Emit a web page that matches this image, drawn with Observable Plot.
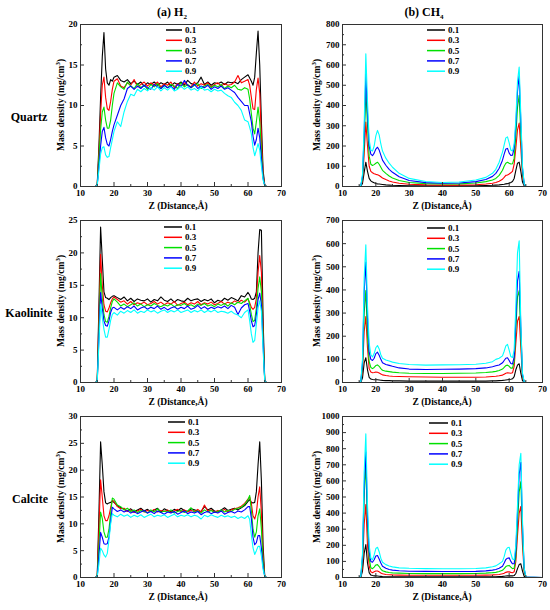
<!DOCTYPE html>
<html><head><meta charset="utf-8">
<script src="https://cdn.jsdelivr.net/npm/d3@7"></script>
<script src="https://cdn.jsdelivr.net/npm/@observablehq/plot@0.6"></script>
<style>
body{margin:0;background:#fff;}
#root{position:relative;width:550px;height:610px;font-family:"Liberation Serif","Times New Roman",serif;font-weight:bold;color:#000;overflow:hidden;}
.abs{position:absolute;white-space:nowrap;line-height:1;}
.title{font-size:12px;transform:translate(-50%,-50%);}
.rowl{font-size:12px;transform:translate(-50%,-50%);}
.xl{font-size:9.5px;transform:translate(-50%,-50%);}
.yl{font-size:9.5px;transform:translate(-50%,-50%) rotate(-90deg);}
.leg{font-size:9px;transform:translateY(-50%);}
sub,sup{font-size:7px;line-height:0;}
</style></head><body><div id="root"></div>
<script>
// ---------- series labels and colours ----------
const seriesLabels = ["0.1", "0.3", "0.5", "0.7", "0.9"];
const seriesColors = ["#000000", "#ff0000", "#00e000", "#0000ff", "#00ffff"];

// ---------- x grids ----------
const xH2 = [10, 14.5, 15, 15.5, 16, 16.5, 17, 17.5, 18, 18.5, 19, 19.5, 20,
  21, 22, 23, 24, 25, 26, 27, 28, 29, 30, 31, 32, 33, 34, 35, 36, 37, 38, 39, 40,
  41, 42, 43, 44, 45, 46, 47, 48, 49, 50, 51, 52, 53, 54, 55, 56, 57, 58, 59,
  60, 60.5, 61, 61.5, 62, 62.5, 63, 63.5, 64, 64.5, 65, 65.5, 70];
const xCH4 = [10, 15,
  15.5, 16, 16.5, 17, 17.5, 18, 18.5, 19, 19.5, 20, 20.5, 21, 21.5, 22,
  23, 24, 25, 27, 30, 35, 40, 45, 50, 53, 55, 56, 57, 58,
  58.5, 59, 59.5, 60, 60.5, 61, 61.5, 62, 62.5, 63, 63.5, 64, 64.5, 65,
  70];

// ---------- tick values ----------
const xMajor = [10, 20, 30, 40, 50, 60, 70];
const xMinor = [15, 25, 35, 45, 55, 65];
const yTicksQuartzH2 = [0, 5, 10, 15, 20];
const yMinorQuartzH2 = [2.5, 7.5, 12.5, 17.5];
const yTicksKaoliniteH2 = [0, 5, 10, 15, 20, 25];
const yMinorKaoliniteH2 = [2.5, 7.5, 12.5, 17.5, 22.5];
const yTicksCalciteH2 = [0, 5, 10, 15, 20, 25, 30];
const yMinorCalciteH2 = [2.5, 7.5, 12.5, 17.5, 22.5, 27.5];
const yTicksQuartzCH4 = [0, 100, 200, 300, 400, 500, 600, 700, 800];
const yMinorQuartzCH4 = [50, 150, 250, 350, 450, 550, 650, 750];
const yTicksKaoliniteCH4 = [0, 100, 200, 300, 400, 500, 600, 700];
const yMinorKaoliniteCH4 = [50, 150, 250, 350, 450, 550, 650];
const yTicksCalciteCH4 = [0, 100, 200, 300, 400, 500, 600, 700, 800, 900, 1000];
const yMinorCalciteCH4 = [50, 150, 250, 350, 450, 550, 650, 750, 850, 950];

// ---------- (a) Quartz H2 ----------
const quartzH2_01 = [0, 0, 0.3, 5, 11, 16, 19.0, 14.5, 12.8, 12.5, 13.2, 13.0, 13.5,
  13.7, 13.1, 12.9, 13.2, 12.7, 13.0, 12.6, 12.9, 12.4, 12.8, 12.6, 12.9, 12.5, 12.8, 12.6, 12.9, 12.4, 12.8, 12.6, 12.9,
  12.5, 13.1, 12.7, 12.6, 12.8, 13.5, 12.6, 12.9, 12.5, 12.8, 12.7, 12.9, 12.6, 12.9, 12.8, 12.9, 12.7, 13.2, 13.5,
  13.8, 13.4, 13.0, 12.5, 13.5, 16.5, 19.2, 15, 8, 2, 0.2, 0, 0];
const quartzH2_03 = [0, 0, 0.3, 4, 9, 12.5, 13.5, 11, 9.6, 9.4, 10.5, 12.0, 13.0,
  13.3, 12.4, 12.2, 12.8, 12.5, 13.2, 12.3, 12.6, 12.9, 12.4, 12.8, 12.5, 12.9, 12.3, 12.7, 12.5, 12.9, 12.2, 12.7, 12.4,
  12.8, 12.5, 12.3, 12.9, 12.4, 12.7, 12.5, 12.8, 12.3, 12.6, 12.8, 12.4, 12.7, 12.5, 12.6, 12.9, 13.7, 12.8, 13.0,
  13.2, 12.5, 11.0, 9.6, 9.5, 12, 13.4, 11.5, 6, 1.5, 0.1, 0, 0];
const quartzH2_05 = [0, 0, 0.2, 3.5, 7, 9.2, 9.8, 8.2, 7.2, 7.2, 8.2, 10.0, 11.5,
  12.8, 12.3, 12.0, 12.9, 12.4, 12.1, 12.7, 12.2, 12.5, 12.0, 12.6, 12.3, 12.7, 12.1, 12.5, 12.2, 12.6, 12.4, 12.1, 12.8,
  12.3, 12.6, 12.2, 12.5, 12.7, 12.1, 12.4, 12.6, 12.2, 12.5, 12.3, 12.6, 12.1, 12.4, 12.2, 12.5, 12.0, 11.9, 12.2,
  12.0, 10.8, 9.0, 7.2, 6.5, 8, 9.8, 8, 4.5, 1.2, 0.1, 0, 0];
const quartzH2_07 = [0, 0, 0.2, 2.5, 5, 6.8, 7.3, 6.0, 5.2, 5.0, 5.8, 6.8, 7.6,
  8.8, 10.0, 10.8, 12.1, 12.4, 12.0, 12.4, 12.1, 12.5, 12.2, 12.0, 12.6, 12.3, 12.1, 12.5, 12.2, 12.4, 12.0, 12.6, 12.3,
  13.1, 12.5, 12.2, 12.6, 12.1, 12.4, 12.2, 12.5, 12.0, 12.3, 12.1, 12.4, 12.0, 12.2, 11.9, 11.6, 11.0, 10.5, 10.0,
  10.0, 9.0, 8.0, 6.2, 5.1, 5.8, 7.2, 6, 3.5, 1, 0.1, 0, 0];
const quartzH2_09 = [0, 0, 0.2, 2, 4, 4.8, 4.9, 3.9, 3.6, 3.7, 4.8, 5.8, 6.8,
  8.0, 7.4, 9.2, 10.5, 11.4, 11.2, 12.0, 11.7, 12.1, 11.8, 12.2, 11.9, 12.3, 11.8, 12.2, 11.9, 12.3, 11.8, 12.0, 12.4,
  12.0, 12.3, 11.9, 12.1, 11.8, 12.3, 11.9, 12.0, 11.7, 12.0, 11.8, 11.9, 11.5, 11.2, 11.0, 10.4, 10.0, 9.4, 8.2,
  8.0, 7.3, 6.5, 4.8, 3.8, 4.5, 5.3, 4.5, 2.5, 0.8, 0.1, 0, 0];

// ---------- (a) Kaolinite H2 ----------
const kaoliniteH2_01 = [0, 0, 0.3, 12, 24.0, 19, 14, 13.1, 13.0, 12.8, 13.1, 13.3, 13.4,
  13.1, 12.8, 13.2, 12.6, 13.0, 12.5, 12.9, 12.7, 12.6, 12.9, 12.4, 12.8, 12.6, 13.2, 12.7, 12.5, 12.9, 12.4, 12.8, 12.6,
  12.5, 13.0, 12.6, 12.8, 12.9, 12.5, 12.8, 12.6, 12.9, 12.3, 12.7, 12.5, 13.0, 12.7, 13.1, 12.9, 12.6, 13.4, 13.2,
  13.9, 13.5, 12.9, 12.8, 13.0, 14, 20, 23.6, 23.5, 10, 0.2, 0, 0];
const kaoliniteH2_03 = [0, 0, 0.3, 10, 19.8, 15, 12, 11.0, 10.9, 11.5, 12.3, 12.9, 13.2,
  12.8, 12.4, 12.6, 12.1, 12.5, 12.0, 12.3, 12.1, 12.4, 12.0, 12.2, 12.5, 12.1, 12.4, 12.0, 12.3, 12.1, 12.5, 11.9, 12.2,
  12.4, 12.0, 12.3, 12.1, 12.5, 12.0, 12.3, 12.1, 12.4, 12.0, 12.2, 12.5, 12.1, 12.4, 12.2, 12.6, 12.3, 12.7, 12.4,
  12.9, 12.3, 11.6, 11.3, 11.6, 13, 17, 19.6, 17, 8, 0.2, 0, 0];
const kaoliniteH2_05 = [0, 0, 0.3, 8, 16.8, 13, 10.5, 9.4, 9.3, 10.2, 11.5, 12.5, 12.9,
  12.4, 11.8, 12.1, 11.7, 12.0, 12.3, 11.8, 12.1, 11.7, 12.0, 11.8, 12.2, 11.9, 11.7, 12.0, 11.8, 12.1, 11.7, 12.0, 11.9,
  12.2, 11.8, 12.0, 11.7, 12.1, 11.9, 12.2, 11.8, 12.0, 11.7, 12.1, 11.9, 12.2, 11.8, 12.3, 12.0, 12.4, 12.2, 12.6,
  13.0, 12.0, 10.5, 9.4, 9.6, 11.5, 14.5, 16.3, 14, 7, 0.2, 0, 0];
const kaoliniteH2_07 = [0, 0, 0.2, 7, 13.9, 11.5, 9.5, 8.8, 8.7, 9.5, 10.8, 11.5, 11.6,
  11.2, 11.6, 11.3, 11.7, 11.4, 11.8, 11.2, 11.5, 11.7, 11.3, 11.6, 11.4, 11.8, 11.3, 11.6, 11.2, 11.5, 11.7, 11.3, 11.6,
  11.4, 11.8, 11.3, 11.5, 11.9, 11.4, 11.7, 11.3, 11.6, 11.4, 11.7, 11.5, 11.8, 11.4, 11.9, 11.6, 10.5, 11.5, 12.0,
  12.2, 11.0, 9.5, 8.6, 8.8, 10.5, 12.8, 13.8, 12, 6, 0.2, 0, 0];
const kaoliniteH2_09 = [0, 0, 0.2, 6, 12.1, 10, 8.2, 7.0, 7.0, 8.2, 9.6, 10.5, 10.8,
  10.4, 11.0, 10.7, 11.1, 10.8, 11.2, 10.7, 11.0, 10.8, 11.2, 10.9, 11.1, 10.7, 11.0, 11.2, 10.8, 11.1, 10.9, 11.2, 10.8,
  11.0, 11.2, 10.8, 11.1, 10.9, 11.2, 10.8, 11.1, 10.9, 11.2, 10.8, 11.0, 10.9, 10.7, 11.0, 10.6, 10.4, 10.0, 10.8,
  11.2, 9.5, 7.5, 6.2, 6.5, 9, 11.5, 12.6, 11, 5, 0.2, 0, 0];

// ---------- (a) Calcite H2 ----------
const calciteH2_01 = [0, 0, 0.3, 12, 25.3, 21, 16, 13.9, 13.7, 13.9, 14.0, 14.2, 14.0,
  13.4, 13.0, 12.7, 12.4, 12.8, 12.3, 12.6, 12.9, 12.4, 12.7, 12.3, 12.6, 12.9, 12.2, 12.8, 12.5, 12.3, 12.7, 12.4, 12.9,
  12.5, 12.3, 12.8, 12.6, 12.4, 12.3, 13.2, 12.6, 12.9, 12.4, 12.2, 12.6, 13.0, 12.5, 12.7, 12.9, 12.6, 13.0, 13.4,
  14.2, 14.5, 14.0, 13.9, 14.0, 16, 21, 25.3, 18, 6, 0.2, 0, 0];
const calciteH2_03 = [0, 0, 0.3, 9, 18.2, 15, 11.5, 10.6, 10.6, 11.5, 13.0, 14.4, 14.2,
  13.2, 12.8, 12.9, 12.3, 12.6, 12.1, 12.4, 12.7, 12.2, 12.5, 12.3, 12.7, 12.2, 12.5, 12.3, 12.6, 12.1, 12.4, 12.7, 12.3,
  12.6, 12.2, 12.5, 12.3, 12.7, 12.2, 13.5, 12.4, 12.6, 12.2, 12.5, 12.3, 12.7, 12.2, 12.6, 12.8, 13.0, 13.3, 13.8,
  14.6, 15.0, 13.8, 11.5, 10.9, 12, 15, 16.9, 12, 4, 0.2, 0, 0];
const calciteH2_05 = [0, 0, 0.3, 6, 12.2, 11, 8.5, 7.5, 7.5, 9, 12, 14.8, 14.6,
  13.5, 13.2, 12.6, 12.9, 12.3, 12.6, 12.1, 12.5, 12.3, 12.0, 12.6, 12.2, 12.8, 12.1, 12.4, 12.2, 12.6, 12.0, 12.3, 12.5,
  12.1, 12.4, 13.0, 12.2, 12.4, 12.0, 12.6, 12.2, 12.5, 12.1, 12.3, 12.6, 12.2, 12.5, 12.3, 12.7, 12.9, 13.1, 13.6,
  14.5, 15.3, 12.5, 9, 7.5, 8.5, 11.5, 12.8, 9, 3, 0.2, 0, 0];
const calciteH2_07 = [0, 0, 0.2, 4, 8.4, 7.5, 6.3, 6.2, 6.3, 7.5, 10.5, 13.1, 12.8,
  12.3, 12.6, 12.2, 12.5, 12.0, 12.3, 11.9, 12.2, 12.5, 12.0, 12.3, 11.9, 12.4, 12.1, 11.8, 12.2, 12.0, 12.3, 11.8, 12.1,
  12.4, 11.9, 12.2, 12.0, 12.3, 11.7, 12.1, 12.3, 11.9, 12.2, 12.0, 12.4, 11.8, 12.1, 12.3, 12.0, 12.4, 12.2, 12.6,
  13.2, 13.2, 11, 7.5, 6.1, 6.5, 7.8, 7.8, 5.5, 2, 0.2, 0, 0];
const calciteH2_09 = [0, 0, 0.2, 2.5, 5.5, 5.0, 4.2, 3.8, 4.5, 7, 10, 11.9, 11.6,
  11.3, 11.8, 11.4, 11.7, 11.2, 11.6, 11.3, 11.7, 11.2, 11.5, 11.8, 11.3, 11.6, 11.4, 11.7, 11.2, 11.5, 11.8, 11.3, 11.6,
  11.4, 11.7, 11.3, 11.6, 11.4, 10.9, 11.6, 11.3, 11.7, 11.4, 11.2, 11.6, 11.3, 11.5, 11.2, 11.4, 11.0, 11.3, 11.0,
  11.5, 10.8, 8, 5.5, 4.3, 5, 5.8, 5.8, 4, 1.5, 0.2, 0, 0];

// ---------- (b) Quartz CH4 ----------
const quartzCH4_01 = [0, 0, 1, 15, 70, 120, 75, 40, 28, 22, 18, 15, 13, 12, 11, 10,
  8, 7, 6, 5, 4, 3, 3, 3, 4, 5, 6, 7, 8, 10,
  11, 13, 14, 16, 20, 25, 40, 80, 115, 120, 75, 22, 3, 0, 0];
const quartzCH4_03 = [0, 0, 2, 30, 160, 318, 200, 100, 75, 68, 63, 60, 58, 54, 48, 42,
  34, 27, 22, 16, 11, 8, 7, 7, 9, 12, 16, 20, 26, 36,
  45, 55, 57, 62, 68, 75, 110, 190, 280, 313, 190, 55, 8, 0, 0];
const quartzCH4_05 = [0, 0, 3, 40, 220, 474, 300, 150, 110, 104, 108, 115, 120, 110, 95, 80,
  65, 52, 42, 30, 20, 14, 12, 13, 17, 24, 32, 40, 55, 80,
  100, 115, 120, 115, 111, 112, 140, 250, 390, 450, 260, 75, 10, 0, 0];
const quartzCH4_07 = [0, 0, 4, 50, 260, 556, 360, 200, 160, 152, 165, 185, 194, 180, 155, 130,
  105, 85, 70, 48, 30, 19, 16, 17, 24, 35, 50, 65, 90, 130,
  160, 185, 188, 165, 153, 155, 190, 300, 470, 548, 320, 90, 12, 0, 0];
const quartzCH4_09 = [0, 0, 5, 60, 300, 655, 420, 230, 180, 175, 200, 250, 277, 255, 210, 175,
  140, 115, 95, 65, 40, 25, 20, 22, 32, 45, 65, 85, 120, 170,
  205, 240, 245, 215, 180, 175, 210, 330, 520, 590, 350, 100, 15, 0, 0];

// ---------- (b) Kaolinite CH4 ----------
const kaoliniteCH4_01 = [0, 0, 1, 20, 85, 107, 55, 22, 15, 13, 12, 12, 12, 11, 10, 9,
  8, 8, 7, 7, 6, 6, 6, 6, 6, 6, 7, 7, 8, 9,
  10, 11, 12, 13, 14, 16, 25, 55, 75, 81, 40, 8, 1, 0, 0];
const kaoliniteCH4_03 = [0, 0, 2, 50, 220, 285, 150, 60, 45, 42, 43, 45, 44, 41, 37, 33,
  30, 28, 27, 26, 25, 24, 23, 23, 23, 24, 26, 27, 29, 32,
  36, 40, 42, 41, 40, 42, 70, 170, 265, 285, 150, 22, 2, 0, 0];
const kaoliniteCH4_05 = [0, 0, 3, 70, 300, 397, 200, 90, 65, 60, 65, 73, 76, 70, 60, 53,
  49, 47, 45, 42, 40, 39, 39, 40, 41, 43, 46, 48, 52, 58,
  65, 73, 75, 70, 62, 62, 90, 230, 370, 397, 200, 30, 3, 0, 0];
const kaoliniteCH4_07 = [0, 0, 4, 85, 390, 520, 280, 130, 100, 95, 105, 125, 131, 118, 100, 85,
  78, 74, 70, 63, 58, 56, 57, 58, 60, 63, 68, 72, 76, 85,
  95, 105, 107, 95, 82, 80, 110, 270, 440, 480, 240, 35, 3, 0, 0];
const kaoliniteCH4_09 = [0, 0, 5, 100, 450, 595, 330, 170, 120, 110, 125, 150, 160, 145, 120, 105,
  97, 93, 88, 82, 78, 75, 76, 77, 79, 83, 90, 100, 105, 115,
  135, 158, 165, 140, 112, 108, 140, 330, 560, 612, 250, 40, 3, 0, 0];

// ---------- (b) Calcite CH4 ----------
const calciteCH4_01 = [0, 0, 2, 40, 150, 205, 90, 30, 15, 12, 10, 10, 9, 8, 7, 6,
  5, 5, 5, 4, 4, 4, 4, 4, 4, 4, 5, 5, 6, 7,
  8, 9, 10, 10, 10, 10, 12, 25, 55, 80, 85, 40, 8, 1, 0];
const calciteCH4_03 = [0, 0, 4, 70, 330, 453, 200, 70, 35, 30, 35, 40, 40, 35, 28, 23,
  19, 17, 16, 15, 14, 14, 14, 14, 14, 15, 16, 17, 19, 23,
  27, 32, 35, 35, 32, 30, 35, 100, 260, 400, 441, 200, 35, 2, 0];
const calciteCH4_05 = [0, 0, 6, 110, 500, 706, 330, 120, 60, 55, 65, 78, 80, 68, 52, 42,
  35, 31, 29, 27, 25, 24, 24, 24, 25, 27, 30, 32, 37, 45,
  55, 68, 73, 75, 65, 55, 58, 130, 330, 530, 595, 270, 45, 2, 0];
const calciteCH4_07 = [0, 0, 8, 130, 560, 780, 380, 160, 100, 95, 110, 133, 137, 115, 90, 70,
  58, 50, 46, 42, 39, 38, 37, 37, 38, 41, 46, 50, 58, 70,
  90, 112, 120, 122, 100, 85, 85, 170, 400, 640, 716, 320, 55, 3, 0];
const calciteCH4_09 = [0, 0, 10, 150, 650, 892, 450, 200, 120, 110, 140, 180, 188, 160, 120, 95,
  80, 72, 66, 60, 57, 55, 54, 54, 56, 60, 67, 72, 85, 100,
  130, 170, 185, 188, 150, 115, 110, 200, 450, 700, 772, 350, 60, 3, 0];

// ---------- panel configuration ----------
const panels = [
  {col: 0, row: 0, x: xH2, yMax: 20, yTicks: yTicksQuartzH2, yMinor: yMinorQuartzH2,
   series: [quartzH2_01, quartzH2_03, quartzH2_05, quartzH2_07, quartzH2_09], leg: [166, 182, 185, 30]},
  {col: 1, row: 0, x: xCH4, yMax: 800, yTicks: yTicksQuartzCH4, yMinor: yMinorQuartzCH4,
   series: [quartzCH4_01, quartzCH4_03, quartzCH4_05, quartzCH4_07, quartzCH4_09], leg: [427, 445, 448, 30]},
  {col: 0, row: 1, x: xH2, yMax: 25, yTicks: yTicksKaoliniteH2, yMinor: yMinorKaoliniteH2,
   series: [kaoliniteH2_01, kaoliniteH2_03, kaoliniteH2_05, kaoliniteH2_07, kaoliniteH2_09], leg: [164, 182, 185, 227]},
  {col: 1, row: 1, x: xCH4, yMax: 700, yTicks: yTicksKaoliniteCH4, yMinor: yMinorKaoliniteCH4,
   series: [kaoliniteCH4_01, kaoliniteCH4_03, kaoliniteCH4_05, kaoliniteCH4_07, kaoliniteCH4_09], leg: [427, 445, 448, 228]},
  {col: 0, row: 2, x: xH2, yMax: 30, yTicks: yTicksCalciteH2, yMinor: yMinorCalciteH2,
   series: [calciteH2_01, calciteH2_03, calciteH2_05, calciteH2_07, calciteH2_09], leg: [168, 185, 188, 422]},
  {col: 1, row: 2, x: xCH4, yMax: 1000, yTicks: yTicksCalciteCH4, yMinor: yMinorCalciteCH4,
   series: [calciteCH4_01, calciteCH4_03, calciteCH4_05, calciteCH4_07, calciteCH4_09], leg: [429, 448, 451, 423]}
];
const cols = [{left: 0, width: 290, ml: 80, mr: 9}, {left: 280, width: 270, ml: 62, mr: 8}];
const rows = [{top: 14, height: 186}, {top: 210, height: 186}, {top: 406, height: 185}];
const MT = 10, MB = 14;
const SVGNS = "http://www.w3.org/2000/svg";

const root = document.getElementById("root");
function addText(html, cls, x, y) {
  const d = document.createElement("div");
  d.className = "abs " + cls;
  d.style.left = x + "px";
  d.style.top = y + "px";
  d.innerHTML = html;
  root.appendChild(d);
  return d;
}

for (const p of panels) {
  const c = cols[p.col], r = rows[p.row];
  const innerH = r.height - MT - MB, innerW = c.width - c.ml - c.mr;
  const data = [];
  p.series.forEach((vals, k) => vals.forEach((v, i) => data.push({x: p.x[i], y: v, s: seriesLabels[k]})));
  const chart = Plot.plot({
    width: c.width, height: r.height,
    marginLeft: c.ml, marginRight: c.mr, marginTop: MT, marginBottom: MB,
    style: {background: "transparent", fontFamily: "'Liberation Serif', serif", fontWeight: "bold", fontSize: "9px", overflow: "visible", color: "#000"},
    x: {domain: [10, 70]},
    y: {domain: [0, p.yMax]},
    color: {domain: seriesLabels, range: seriesColors},
    marks: [
      Plot.line(data, {x: "x", y: "y", z: "s", stroke: "s", strokeWidth: 1.1}),
      Plot.frame({stroke: "#333", strokeWidth: 1}),
      Plot.tickX(xMajor, {x: d => d, insetTop: innerH - 4, stroke: "#333"}),
      Plot.tickX(xMinor, {x: d => d, insetTop: innerH - 2, stroke: "#333"}),
      Plot.tickY(p.yTicks, {y: d => d, insetRight: innerW - 4, stroke: "#333"}),
      Plot.tickY(p.yMinor, {y: d => d, insetRight: innerW - 2, stroke: "#333"}),
      Plot.axisX({ticks: xMajor, tickSize: 0, tickPadding: 3, label: null, tickFormat: d => String(d)}),
      Plot.axisY({ticks: p.yTicks, tickSize: 0, tickPadding: 3, label: null, tickFormat: d => String(d)})
    ]
  });
  const wrap = document.createElement("div");
  wrap.style.position = "absolute";
  wrap.style.left = c.left + "px";
  wrap.style.top = r.top + "px";
  wrap.appendChild(chart);
  root.appendChild(wrap);

  // legend swatches (inline svg) and labels
  const [x1, x2, lx, y0] = p.leg;
  const ls = document.createElementNS(SVGNS, "svg");
  ls.setAttribute("width", x2 - x1 + 2);
  ls.setAttribute("height", 60);
  ls.style.cssText = `position:absolute;left:${x1 - 1}px;top:${y0 - 5}px;overflow:visible;`;
  seriesLabels.forEach((lab, k) => {
    const yy = 5 + k * 10.3;
    const ln = document.createElementNS(SVGNS, "line");
    ln.setAttribute("x1", 1); ln.setAttribute("x2", x2 - x1 + 1);
    ln.setAttribute("y1", yy); ln.setAttribute("y2", yy);
    ln.setAttribute("stroke", seriesColors[k]);
    ln.setAttribute("stroke-width", 1.5);
    ls.appendChild(ln);
    addText(lab, "leg", lx, y0 + k * 10.3);
  });
  root.appendChild(ls);

  // axis titles
  const frameTop = r.top + MT, frameBottom = r.top + r.height - MB;
  addText("Z (Distance,Å)", "xl", p.col === 0 ? 178 : 442, frameBottom + 21);
  addText("Mass density (mg/cm<sup>3</sup>)", "yl", p.col === 0 ? 62 : 318, (frameTop + frameBottom) / 2);
}

addText("(a) H<sub>2</sub>", "title", 172, 12);
addText("(b) CH<sub>4</sub>", "title", 424, 12);
addText("Quartz", "rowl", 29, 117);
addText("Kaolinite", "rowl", 29, 313);
addText("Calcite", "rowl", 30, 499);
</script></body></html>
